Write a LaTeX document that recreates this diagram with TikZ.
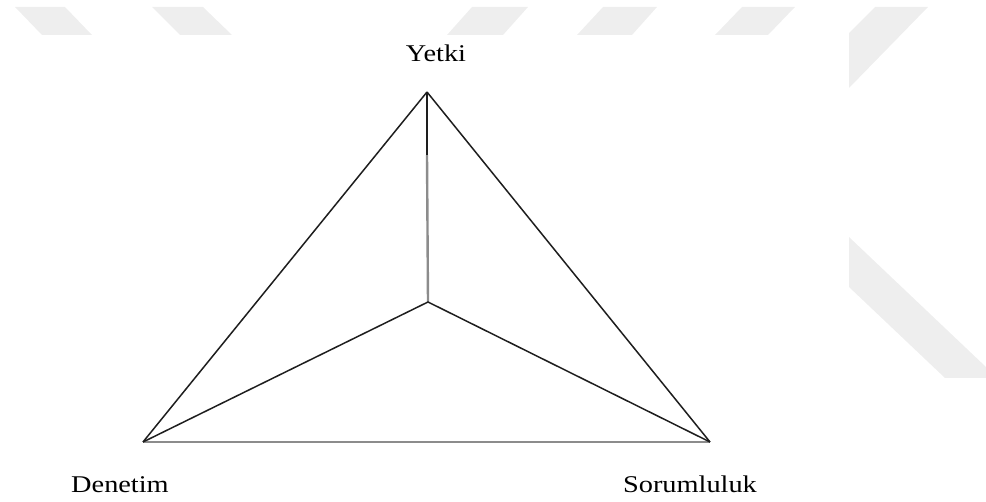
\documentclass[tikz,border=0pt]{standalone}
\usepackage{fontspec}
\newfontfamily\labelfont[FakeStretch=1.18]{Liberation Serif}
\usetikzlibrary{positioning}
\definecolor{wmgray}{RGB}{238, 238, 238}
\definecolor{edgedark}{RGB}{30, 30, 30}
\definecolor{edgegray}{RGB}{140, 140, 140}
\tikzset{
  corner label/.style={font=\labelfont\fontsize{24}{28}\selectfont, inner sep=0pt, anchor=base},
  edge/.style={edgedark, line width=1.5pt},
  soft edge/.style={edgegray, line width=2.4pt},
}

\begin{document}
\begin{tikzpicture}[x=1pt, y=-1pt]
  \useasboundingbox (0,0) rectangle (986,502);

  % --- faint watermark bands ---
  \fill[wmgray] (15,7) -- (65,7) -- (92,35) -- (42,35) -- cycle;
  \fill[wmgray] (152,7) -- (203,7) -- (232,35) -- (180,35) -- cycle;
  \fill[wmgray] (472,7) -- (528,7) -- (503,35) -- (447,35) -- cycle;
  \fill[wmgray] (603,7) -- (657,7) -- (632,35) -- (577,35) -- cycle;
  \fill[wmgray] (742,7) -- (795,7) -- (768,35) -- (715,35) -- cycle;
  \fill[wmgray] (875,7) -- (928,7) -- (849,88) -- (849,33) -- cycle;
  \fill[wmgray] (849,237) -- (986,367) -- (986,378) -- (945,378) -- (849,287) -- cycle;

  % --- corners of the triangle ---
  \coordinate (yetki) at (427,92);
  \coordinate (denetim) at (143,442);
  \coordinate (sorumluluk) at (710,442);
  \coordinate (centre) at (428,302);
  \coordinate (split) at (427,155);

  % --- labels ---
  \node[corner label] (yetkiText) at (436,62) {Yetki};
  \node[corner label] (denetimText) at (120,493) {Denetim};
  \node[corner label] (sorumlulukText) at (690,493) {Sorumluluk};

  % --- edges ---
  \draw[soft edge] (denetim) -- (sorumluluk);
  \draw[soft edge] (split) -- (centre);
  \draw[edge] (yetki) -- (denetim);
  \draw[edge] (yetki) -- (sorumluluk);
  \draw[edge] (denetim) -- (centre) -- (sorumluluk);
  \draw[edge, line width=2.2pt] (yetki) -- (split);

\end{tikzpicture}
\end{document}
